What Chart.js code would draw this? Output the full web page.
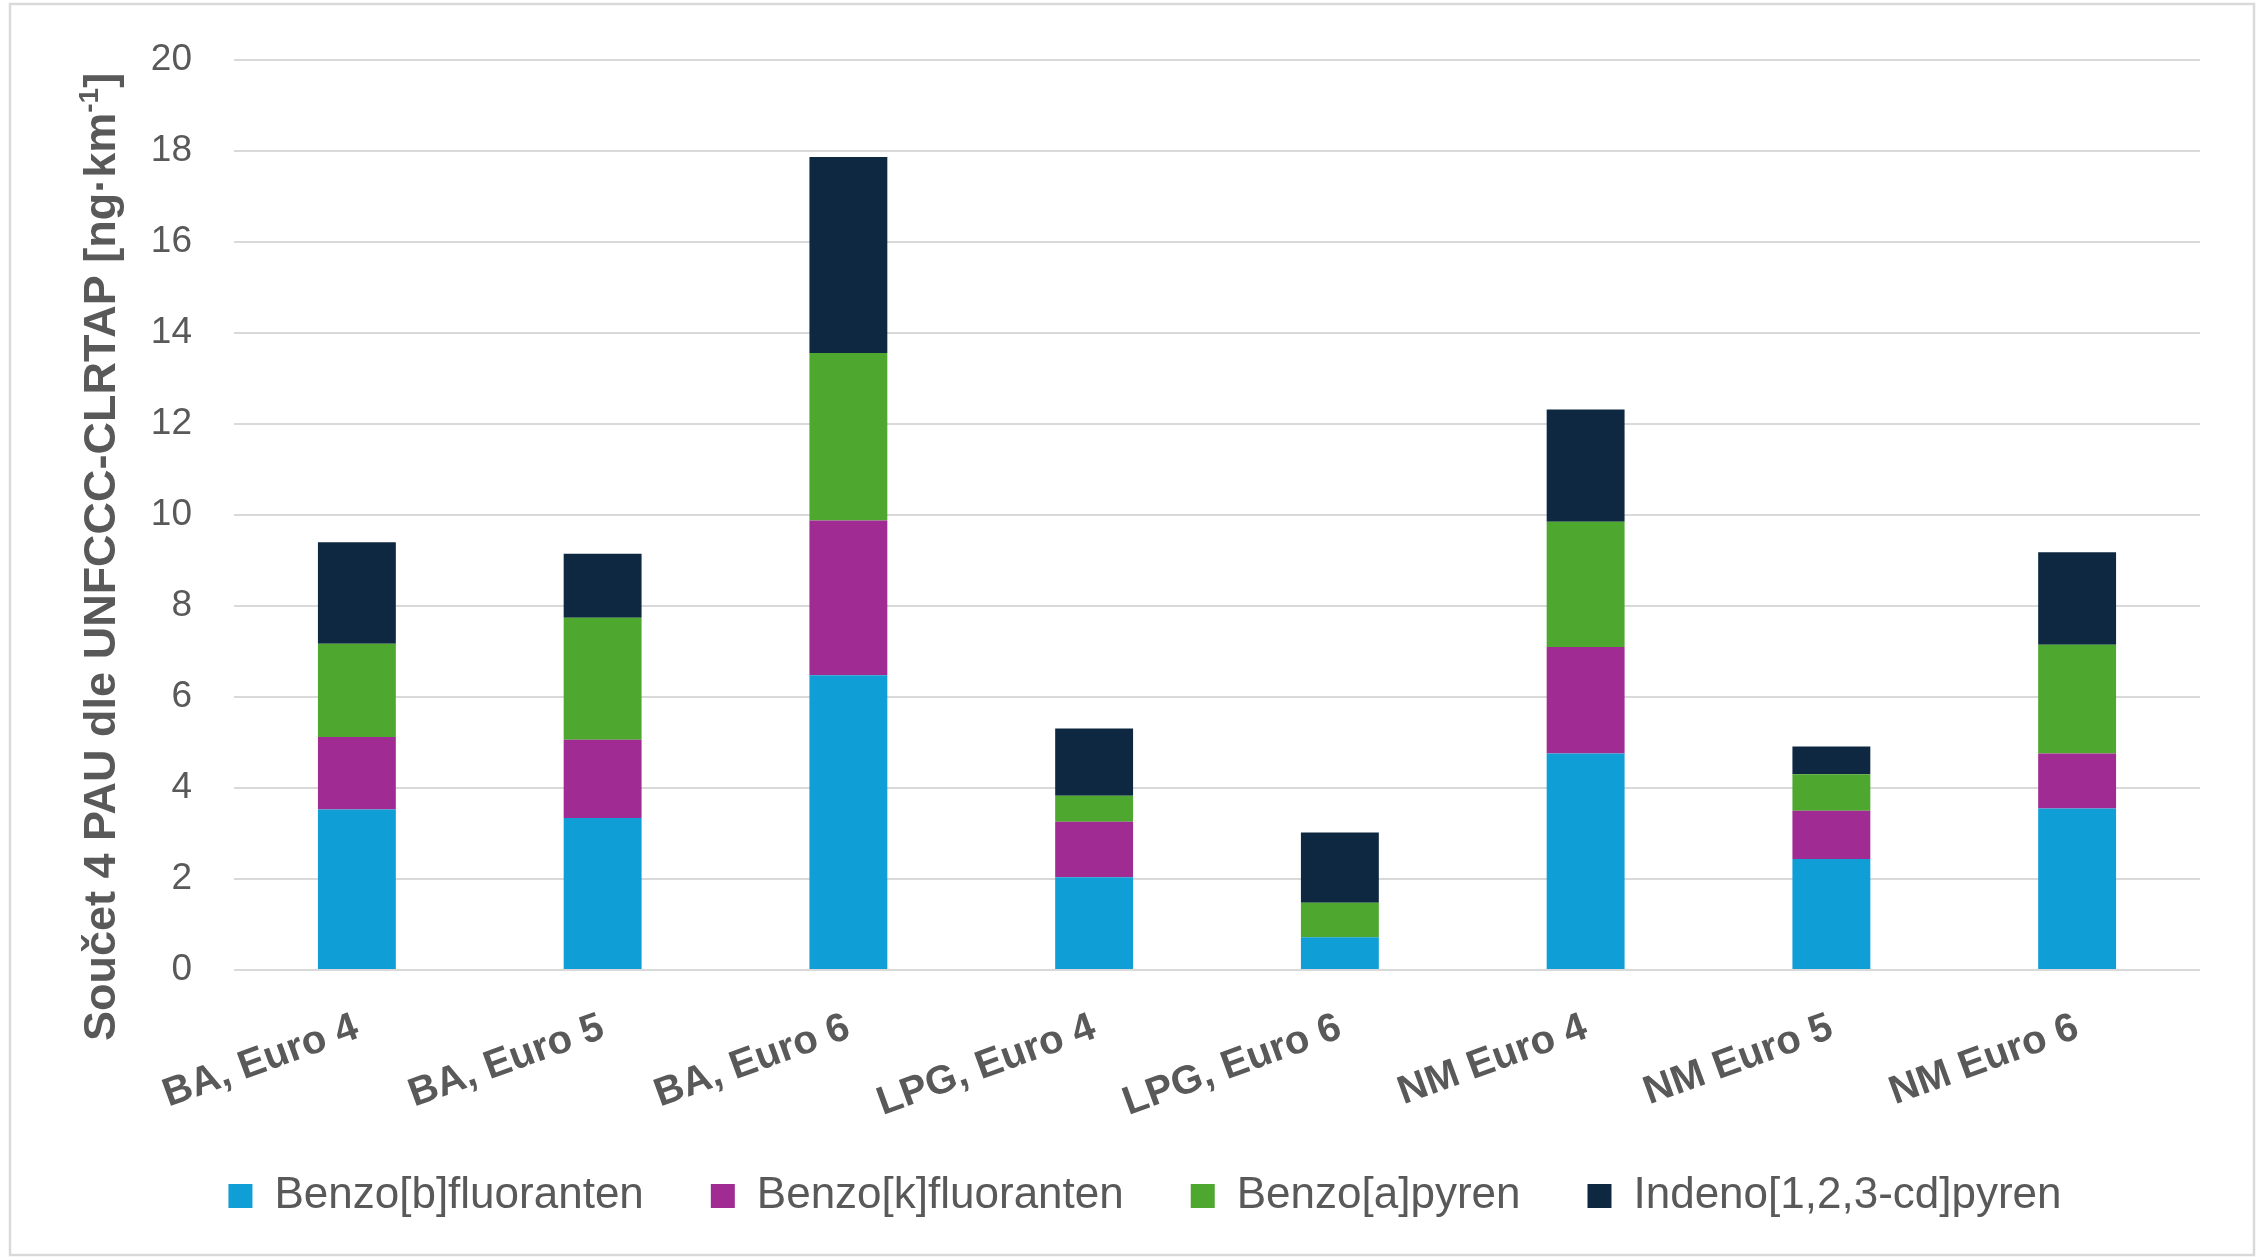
<!DOCTYPE html>
<html>
<head>
<meta charset="utf-8">
<script src="https://cdn.jsdelivr.net/npm/chart.js@4.4.1/dist/chart.umd.min.js"></script>
<style>
  html, body { margin: 0; padding: 0; background: #ffffff; }
  #wrap { width: 2264px; height: 1257px; position: relative; }
</style>
</head>
<body>
<div id="wrap"><canvas id="chart" width="2264" height="1257"></canvas></div>
<script>
// Vehicle categories (fuel type, emission standard)
const categories = ['BA, Euro 4', 'BA, Euro 5', 'BA, Euro 6', 'LPG, Euro 4', 'LPG, Euro 6', 'NM Euro 4', 'NM Euro 5', 'NM Euro 6'];

// PAH emission factors, ng per km
const benzoB = [3.53, 3.34, 6.48, 2.04, 0.72, 4.76, 2.44, 3.55];
const benzoK = [1.59, 1.72, 3.40, 1.22, 0.00, 2.34, 1.06, 1.21];
const benzoA = [2.05, 2.68, 3.68, 0.57, 0.76, 2.75, 0.80, 2.39];
const indeno = [2.23, 1.41, 4.31, 1.48, 1.54, 2.47, 0.61, 2.03];

const seriesNames = ['Benzo[b]fluoranten', 'Benzo[k]fluoranten', 'Benzo[a]pyren', 'Indeno[1,2,3-cd]pyren'];
const seriesColors = ['#0F9ED5', '#A02B93', '#4EA72E', '#0E2841'];

// Value axis ticks
const yTicks = [0, 2, 4, 6, 8, 10, 12, 14, 16, 18, 20];

// Axis title pieces: main text, superscript, closing bracket
const yTitleMain = 'Součet 4 PAU dle UNFCCC-CLRTAP [ng·km';
const yTitleSup = '-1';
const yTitleEnd = ']';

const TEXT = '#595959';
const GRID = '#d9d9d9';
const FONT = '"Liberation Sans", Arial, sans-serif';

// Light frame around the whole chart; rotated category labels may run
// below the axis box, so they are not clipped to it
const framePlugin = {
  id: 'frame',
  beforeDraw(chart) {
    const ctx = chart.ctx;
    ctx.save();
    ctx.fillStyle = '#ffffff';
    ctx.fillRect(0, 0, chart.width, chart.height);
    ctx.strokeStyle = GRID;
    ctx.lineWidth = 2.5;
    ctx.strokeRect(10, 4, chart.width - 20, chart.height - 6);
    ctx.restore();
    if (chart.scales.x) chart.scales.x._computeLabelArea = () => undefined;
  }
};

// Rotated value-axis title with a superscript exponent
const yTitlePlugin = {
  id: 'yTitle',
  afterDraw(chart) {
    const ctx = chart.ctx;
    const area = chart.chartArea;
    const cx = 100;
    const cy = (area.top + area.bottom) / 2 + 42;
    const big = 'bold 45px ' + FONT;
    const small = 'bold 28px ' + FONT;
    ctx.save();
    ctx.font = big;
    const w1 = ctx.measureText(yTitleMain).width;
    const w3 = ctx.measureText(yTitleEnd).width;
    ctx.font = small;
    const w2 = ctx.measureText(yTitleSup).width;
    const total = w1 + w2 + w3;
    ctx.translate(cx, cy);
    ctx.rotate(-Math.PI / 2);
    ctx.fillStyle = TEXT;
    ctx.textBaseline = 'alphabetic';
    ctx.textAlign = 'left';
    const base = 15;
    let x = -total / 2;
    ctx.font = big;
    ctx.fillText(yTitleMain, x, base);
    x += w1;
    ctx.font = small;
    ctx.fillText(yTitleSup, x, base - 17);
    x += w2;
    ctx.font = big;
    ctx.fillText(yTitleEnd, x, base);
    ctx.restore();
  }
};

const datasets = [benzoB, benzoK, benzoA, indeno].map((values, i) => ({
  label: seriesNames[i],
  data: values,
  backgroundColor: seriesColors[i],
  borderWidth: 0,
  barPercentage: 0.317,
  categoryPercentage: 1.0
}));

new Chart(document.getElementById('chart'), {
  type: 'bar',
  data: { labels: categories, datasets },
  plugins: [framePlugin, yTitlePlugin],
  options: {
    responsive: false,
    animation: false,
    devicePixelRatio: 1,
    layout: { padding: { left: 90, right: 64, top: 60, bottom: 29 } },
    plugins: {
      tooltip: { enabled: false },
      title: { display: false },
      legend: {
        position: 'bottom',
        labels: {
          color: TEXT,
          font: { family: FONT, size: 44 },
          boxWidth: 24,
          boxHeight: 24,
          padding: 67
        }
      }
    },
    scales: {
      x: {
        stacked: true,
        grid: { display: false },
        border: { display: false },
        ticks: {
          color: TEXT,
          font: { family: FONT, size: 40, weight: 'bold' },
          minRotation: 20,
          maxRotation: 20,
          padding: 26,
          autoSkip: false
        },
        afterFit(scale) { scale.height = 137; }
      },
      y: {
        stacked: true,
        min: 0,
        max: 20,
        afterBuildTicks(scale) { scale.ticks = yTicks.map(v => ({ value: v })); },
        grid: { color: GRID, lineWidth: 2, drawTicks: false },
        border: { display: false },
        ticks: {
          color: TEXT,
          font: { family: FONT, size: 37 },
          padding: 42
        },
        afterFit(scale) {
          scale.width = 144;
          scale.paddingTop = 0;
          scale.paddingBottom = 0;
        }
      }
    }
  }
});
</script>
</body>
</html>
